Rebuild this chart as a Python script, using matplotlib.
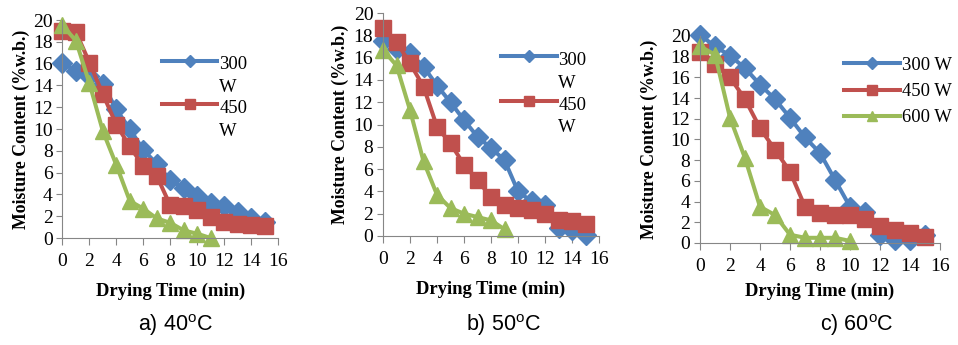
import numpy as np
import matplotlib
matplotlib.use('Agg')
import matplotlib.pyplot as plt
from matplotlib.legend_handler import HandlerLine2D
from matplotlib.lines import Line2D

plt.rcParams['font.family'] = ['Liberation Serif', 'DejaVu Serif']
plt.rcParams['mathtext.fontset'] = 'custom'
plt.rcParams['mathtext.rm'] = 'Liberation Sans'

# 40 C
t40_300 = [0, 1, 2, 3, 4, 5, 6, 7, 8, 9, 10, 11, 12, 13, 14, 15]
m40_300 = [16.1, 15.3, 14.9, 14.1, 11.8, 10.0, 8.1, 6.8, 5.3, 4.6, 3.9, 3.2, 2.9, 2.4, 1.8, 1.5]
t40_450 = [0, 1, 2, 3, 4, 5, 6, 7, 8, 9, 10, 11, 12, 13, 14, 15]
m40_450 = [19.0, 18.9, 16.1, 13.2, 10.4, 8.4, 6.6, 5.7, 3.0, 2.9, 2.6, 1.9, 1.5, 1.3, 1.2, 1.1]
t40_600 = [0, 1, 2, 3, 4, 5, 6, 7, 8, 9, 10, 11]
m40_600 = [19.5, 18.1, 14.2, 9.8, 6.7, 3.4, 2.7, 1.8, 1.4, 0.7, 0.4, 0.0]

# 50 C
t50_300 = [0, 1, 2, 3, 4, 5, 6, 7, 8, 9, 10, 11, 12, 13, 14, 15]
m50_300 = [17.5, 16.8, 16.4, 15.2, 13.5, 12.0, 10.4, 8.9, 7.9, 6.8, 4.0, 3.1, 2.8, 0.7, 0.5, 0.1]
t50_450 = [0, 1, 2, 3, 4, 5, 6, 7, 8, 9, 10, 11, 12, 13, 14, 15]
m50_450 = [18.7, 17.4, 15.5, 13.4, 9.8, 8.3, 6.4, 5.0, 3.5, 2.8, 2.5, 2.3, 2.0, 1.4, 1.3, 1.1]
t50_600 = [0, 1, 2, 3, 4, 5, 6, 7, 8, 9]
m50_600 = [16.7, 15.3, 11.3, 6.7, 3.7, 2.5, 2.0, 1.7, 1.4, 0.6]

# 60 C
t60_300 = [0, 1, 2, 3, 4, 5, 6, 7, 8, 9, 10, 11, 12, 13, 14, 15]
m60_300 = [20.1, 19.0, 18.1, 16.9, 15.3, 13.9, 12.1, 10.2, 8.7, 6.1, 3.5, 3.0, 0.8, 0.3, 0.3, 0.8]
t60_450 = [0, 1, 2, 3, 4, 5, 6, 7, 8, 9, 10, 11, 12, 13, 14, 15]
m60_450 = [18.5, 17.3, 16.0, 13.9, 11.1, 9.0, 6.9, 3.5, 2.9, 2.7, 2.7, 2.3, 1.6, 1.3, 1.0, 0.6]
t60_600 = [0, 1, 2, 3, 4, 5, 6, 7, 8, 9, 10]
m60_600 = [19.0, 18.2, 12.1, 8.2, 3.5, 2.7, 0.8, 0.5, 0.5, 0.5, 0.2]

labels_wrap = ['300\nW', '450\nW', '600\nW']
labels = ['300 W', '450 W', '600 W']
captions = ['a) 40$^{\\mathregular{o}}$C', 'b) 50$^{\\mathregular{o}}$C', 'c) 60$^{\\mathregular{o}}$C']

blue, red, green = '#4F81BD', '#C0504D', '#9BBB59'
gray = '#868686'
fs = 13.4


class ShiftedLine(HandlerLine2D):
    # handle aligned with the first line of a wrapped label
    def __init__(self, dy=0.0, **kw):
        super().__init__(**kw)
        self.dy = dy

    def create_artists(self, legend, orig_handle, xdescent, ydescent, width, height, fontsize, trans):
        arts = super().create_artists(legend, orig_handle, xdescent, ydescent, width, height, fontsize, trans)
        for a in arts:
            a.set_ydata(np.asarray(a.get_ydata()) + self.dy * fontsize)
        return arts


fig = plt.figure(figsize=(9.58, 3.45), dpi=100)

ax1 = fig.add_axes([0.0652, 0.310, 0.225, 0.632])
ax2 = fig.add_axes([0.3998, 0.316, 0.2255, 0.646])
ax3 = fig.add_axes([0.7307, 0.2957, 0.2505, 0.600])

def draw(ax, data, labs, leg_anchor, nleg, dy, lspace, ylpad, xlpad):
    hs = []
    for (t, m), c, mk, ms, lab in zip(data, [blue, red, green], ['D', 's', '^'], [10.5, 11, 12], labs):
        h, = ax.plot(t, m, color=c, lw=2.9, marker=mk, ms=ms, mec=c, mfc=c, label=lab, clip_on=False)
        hs.append(h)
    ax.set_xlim(0, 16)
    ax.set_ylim(0, 20)
    ax.set_xticks(np.arange(0, 17, 2))
    ax.set_yticks(np.arange(0, 21, 2))
    for s in ['top', 'right']:
        ax.spines[s].set_visible(False)
    for s in ['left', 'bottom']:
        ax.spines[s].set_color(gray)
    ax.tick_params(axis='x', direction='out', length=5, color=gray, pad=6, labelsize=14)
    ax.tick_params(axis='y', direction='out', length=4, color=gray, pad=3, labelsize=14)
    ax.set_xlabel('Drying Time (min)', fontsize=fs, fontweight='bold', labelpad=xlpad)
    ax.set_ylabel('Moisture Content (%w.b.)', fontsize=12.8, fontweight='bold', labelpad=ylpad)
    leg = ax.legend(hs[:nleg], labs[:nleg], loc='upper left', bbox_to_anchor=leg_anchor, frameon=False,
                    fontsize=fs, handlelength=3.0, handletextpad=0.1, labelspacing=lspace,
                    borderpad=0, borderaxespad=0, markerscale=0.6,
                    handler_map={Line2D: ShiftedLine(dy)})
    for txt in leg.get_texts():
        txt.set_linespacing(1.45)

draw(ax1, [(t40_300, m40_300), (t40_450, m40_450), (t40_600, m40_600)], labels_wrap, (0.46, 0.833), 2, 0.85, 0.2, 2, 9)
draw(ax2, [(t50_300, m50_300), (t50_450, m50_450), (t50_600, m50_600)], labels_wrap, (0.545, 0.825), 2, 0.85, 0.25, 3, 9)
draw(ax3, [(t60_300, m60_300), (t60_450, m60_450), (t60_600, m60_600)], labels, (0.60, 0.90), 3, 0.0, 0.5, 9, 5)

for x, cap in zip([0.183, 0.525, 0.894], captions):
    fig.text(x, 0.057, cap, ha='center', va='center', fontsize=15.5, family='Liberation Sans')

fig.savefig('out.png', dpi=100)
